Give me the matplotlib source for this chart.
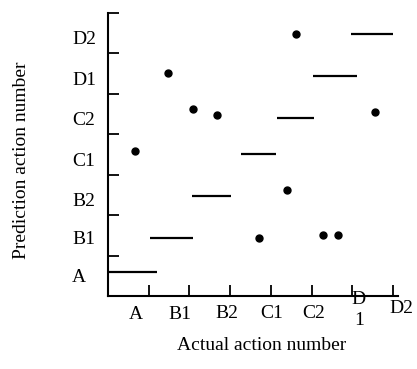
import matplotlib.pyplot as plt

# action categories (same for both axes)
labels = ["A", "B1", "B2", "C1", "C2", "D1", "D2"]

# horizontal segments: actual range of each category
seg_y     = [0.59, 1.44, 2.48, 3.51, 4.41, 5.45, 6.49]
seg_start = [0.00, 1.03, 2.06, 3.27, 4.15, 5.04, 5.97]
seg_end   = [1.20, 2.09, 3.02, 4.13, 5.06, 6.12, 7.00]

# predicted points
dots_x = [0.66, 1.47, 2.09, 2.68, 3.71, 4.40, 4.62, 5.28, 5.65, 6.56]
dots_y = [3.59, 5.52, 4.63, 4.48, 1.44, 2.62, 6.49, 1.51, 1.51, 4.55]

plt.rcParams["font.family"] = ["Liberation Serif", "DejaVu Serif"]
plt.rcParams["font.size"] = 14

fig = plt.figure(figsize=(4.17, 3.69), dpi=100)
ax = fig.add_axes([0.259, 0.198, 0.695, 0.767])

ax.hlines(seg_y, seg_start, seg_end, color="black", linewidth=1.6)
ax.plot(dots_x, dots_y, "o", color="black", markersize=5)

ax.set_xlim(0, 7.12)
ax.set_ylim(0, 7)
for side in ("top", "right"):
    ax.spines[side].set_visible(False)
for side in ("left", "bottom"):
    ax.spines[side].set_linewidth(1.5)

ticks = range(1, 8)
ax.set_xticks(ticks)
ax.set_yticks(ticks)
ax.tick_params(direction="in", length=8, width=1.3, labelbottom=False, labelleft=False)

# category labels, placed between the tick marks
xlab_x = [0.69, 1.77, 2.92, 4.03, 5.06, 6.16, 7.22]
xlab_y = [-0.45, -0.45, -0.43, -0.43, -0.43, -0.35, -0.32]
for lbl, x, y in zip(labels, xlab_x, xlab_y):
    txt = "D\n1" if lbl == "D1" else lbl
    ax.text(x, y, txt, ha="center", va="center", linespacing=1.3, clip_on=False)

ylab_y = [0.45, 1.39, 2.33, 3.32, 4.33, 5.32, 6.34]
for lbl, y in zip(labels, ylab_y):
    ax.text(-0.88, y, lbl, ha="left", va="center", clip_on=False)

fig.text(262 / 417, 1 - 345 / 369, "Actual action number", ha="center", va="center")
fig.text(22 / 417, 1 - 160 / 369, "Prediction action number", ha="center", va="center",
         rotation=90)

fig.savefig("out.png", dpi=100)
